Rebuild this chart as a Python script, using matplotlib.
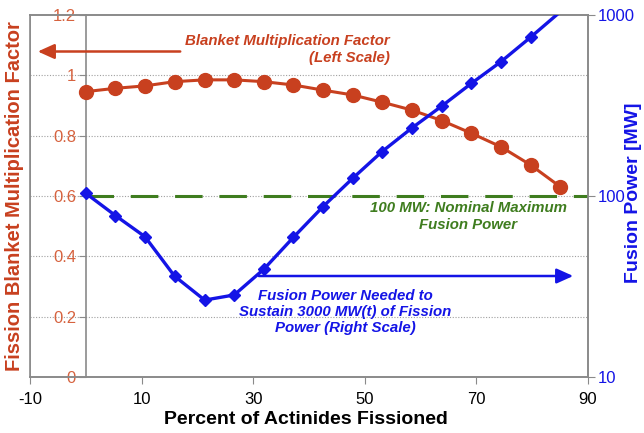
import matplotlib
matplotlib.use("Agg")
import matplotlib.pyplot as plt
from matplotlib.ticker import NullLocator, FixedLocator

plt.rcParams['font.family'] = ['Liberation Sans', 'DejaVu Sans']
plt.rcParams['axes.unicode_minus'] = False

# data
pct_fissioned = [0, 5.3, 10.6, 15.9, 21.3, 26.6, 31.9, 37.2, 42.5,
                 47.8, 53.1, 58.4, 63.8, 69.1, 74.4, 79.7, 85.0]
blanket_mult = [0.946, 0.957, 0.965, 0.979, 0.985, 0.985, 0.979, 0.968, 0.951,
                0.935, 0.911, 0.885, 0.850, 0.808, 0.763, 0.703, 0.631]
fusion_power = [103.5, 78, 59.6, 36.1, 26.6, 28.4, 39.4, 59.1, 87.3,
                125, 176, 237, 314, 419, 552, 753, 1040]

RED = '#c8401f'
RED_TICK = '#d6623e'
BLUE = '#1414e6'
GREEN = '#3f7d1f'
GRAY = '#8a8a8a'

fig = plt.figure(figsize=(6.44, 4.33), dpi=100)
ax = fig.add_axes([30/644, 56/433, 558/644, 362/433])
ax2 = ax.twinx()

ax.set_xlim(-10, 90)
ax.set_ylim(0, 1.2)
ax2.set_yscale('log')
ax2.set_ylim(10, 1000)

# grid
for g in [0.2, 0.4, 0.6, 0.8, 1.0]:
    ax.axhline(g, color='#a0a0a0', lw=0.8, ls=(0, (1, 1.5)), zorder=0)
ax.axvline(-10, color=GRAY, lw=1.2)

for s in ['top', 'bottom', 'left', 'right']:
    ax.spines[s].set_color(GRAY)
    ax2.spines[s].set_color(GRAY)
    ax2.spines[s].set_linewidth(1.2)
    ax.spines[s].set_linewidth(1.2)
ax.spines['left'].set_position(('data', 0))

ax.set_xticks([-10, 10, 30, 50, 70, 90])
ax.set_yticks([0, 0.2, 0.4, 0.6, 0.8, 1.0, 1.2])
ax.set_yticklabels(['0', '0.2', '0.4', '0.6', '0.8', '1', '1.2'])
ax.tick_params(axis='x', colors=GRAY, labelcolor='black', labelsize=12, length=5, pad=6)
ax.tick_params(axis='y', colors=GRAY, labelcolor=RED_TICK, labelsize=12, length=5, pad=2)

ax2.yaxis.set_major_locator(FixedLocator([10, 100, 1000]))
ax2.yaxis.set_minor_locator(NullLocator())
ax2.set_yticklabels(['10', '100', '1000'])
ax2.tick_params(axis='y', colors=GRAY, labelcolor=BLUE, labelsize=12, length=5, pad=2)

# series
ax2.axhline(100, xmin=0.1, xmax=1.0, color=GREEN, lw=2.2, ls=(0, (9, 5.5)), zorder=2)
ax.plot(pct_fissioned, blanket_mult, color=RED, lw=2.2, marker='o', ms=10,
        mfc=RED, mec=RED, zorder=3)
ax2.plot(pct_fissioned, fusion_power, color=BLUE, lw=2.4, marker='D', ms=6.5,
         mfc=BLUE, mec=BLUE, markevery=slice(0, 16), zorder=4)

# labels
fig.text(15/644, 1 - 196/433, 'Fission Blanket Multiplication Factor', rotation=90,
         ha='center', va='center', color=RED, fontsize=14.5, fontweight='bold')
fig.text(634/644, 1 - 193/433, 'Fusion Power [MW]', rotation=90,
         ha='center', va='center', color=BLUE, fontsize=14, fontweight='bold')
fig.text(306/644, 13/433, 'Percent of Actinides Fissioned', ha='center', va='center',
         color='black', fontsize=14, fontweight='bold')

# annotations
fig.text(390/644, 1 - 49.5/433, 'Blanket Multiplication Factor\n(Left Scale)',
         ha='right', va='center', color=RED, fontsize=10.8, fontweight='bold',
         style='italic', linespacing=1.2, multialignment='right')
ax.annotate('', xy=(35/644, 1 - 51.5/433), xycoords='figure fraction',
            xytext=(183/644, 1 - 51.5/433), textcoords='figure fraction',
            arrowprops=dict(arrowstyle='-|>,head_length=1.0,head_width=0.45',
                            color=RED, lw=1.8))

fig.text(468/644, 1 - 216.5/433, '100 MW: Nominal Maximum\nFusion Power',
         ha='center', va='center', color=GREEN, fontsize=10.8, fontweight='bold',
         style='italic', linespacing=1.2)

ax.annotate('', xy=(576/644, 1 - 276/433), xycoords='figure fraction',
            xytext=(256/644, 1 - 276/433), textcoords='figure fraction',
            arrowprops=dict(arrowstyle='-|>,head_length=1.0,head_width=0.45',
                            color=BLUE, lw=1.8))
fig.text(345/644, 1 - 312/433, 'Fusion Power Needed to\nSustain 3000 MW(t) of Fission\nPower (Right Scale)',
         ha='center', va='center', color=BLUE, fontsize=10.8, fontweight='bold',
         style='italic', linespacing=1.2)

fig.savefig('out.png', dpi=100)
